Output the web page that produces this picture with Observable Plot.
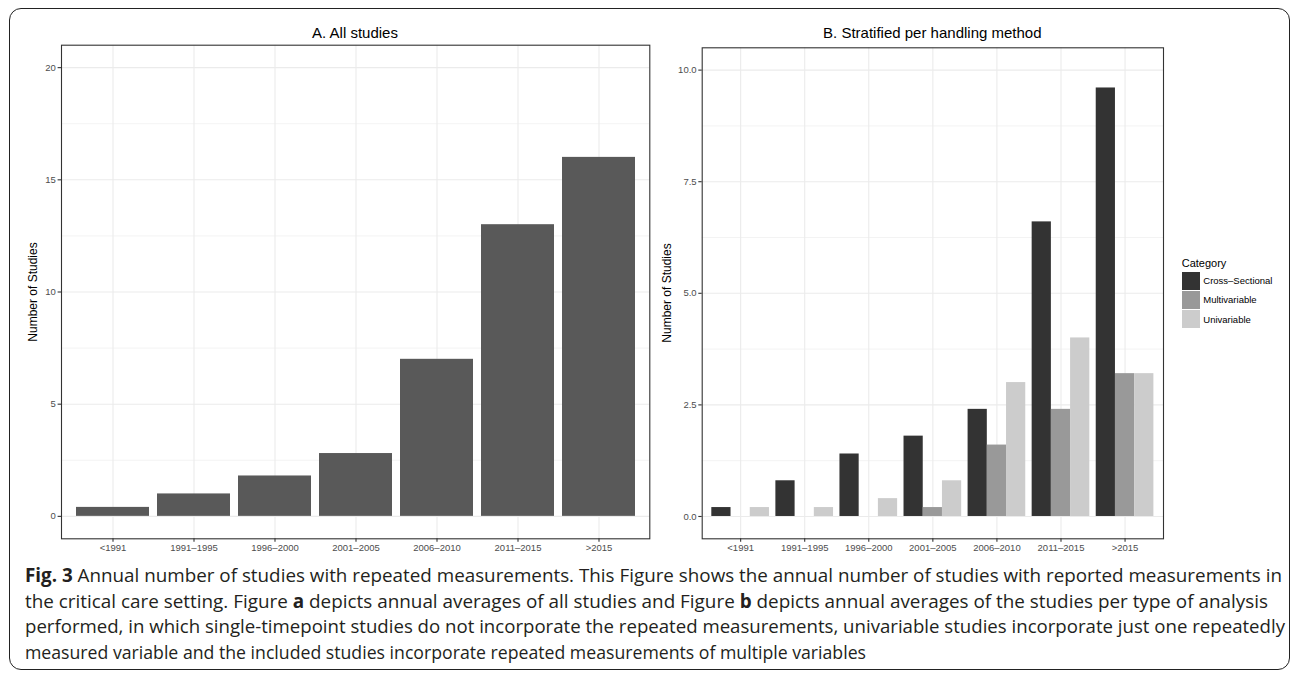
<!DOCTYPE html>
<html><head><meta charset="utf-8">
<script src="https://cdn.jsdelivr.net/npm/d3@7"></script>
<script src="https://cdn.jsdelivr.net/npm/@observablehq/plot@0.6"></script>
<style>
body{margin:0;background:#fff;}
#root{position:relative;width:1293px;height:674px;overflow:hidden;font-family:"Liberation Sans",Arial,sans-serif;}
.abs{position:absolute;}
.ptitle{font-size:15px;line-height:15px;color:#000;white-space:nowrap;transform:translateX(-50%);}
.ylab{font-size:12px;line-height:12px;color:#000;white-space:nowrap;transform:translate(-50%,-50%) rotate(-90deg);}
#border{left:8.5px;top:7.5px;width:1281px;height:662px;border:1.4px solid #222;border-radius:12px;box-sizing:border-box;}
#legend .ttl{font-size:11px;line-height:11px;color:#000;}
#legend .key{position:absolute;width:18.4px;height:18.4px;}
#legend .lab{position:absolute;font-size:9.5px;line-height:10px;color:#000;white-space:nowrap;}
.capline{position:absolute;left:25px;font-family:"Open Sans",sans-serif;font-size:19px;line-height:25.7px;color:#231f20;white-space:nowrap;transform-origin:0 0;}
.capline b{font-weight:700;}
</style></head><body><div id="root"></div>
<script>
// ---- data ----
const categories = ["<1991", "1991–1995", "1996–2000", "2001–2005", "2006–2010", "2011–2015", ">2015"];
const allStudies = [0.4, 1.0, 1.8, 2.8, 7.0, 13.0, 16.0];
const series = ["Cross–Sectional", "Multivariable", "Univariable"];
const crossSectional = [0.2, 0.8, 1.4, 1.8, 2.4, 6.6, 9.6];
const multivariable = [0, 0, 0, 0.2, 1.6, 2.4, 3.2];
const univariable = [0.2, 0.2, 0.4, 0.8, 3.0, 4.0, 3.2];
const yTicksA = [0, 5, 10, 15, 20];
const yTicksB = [0, 2.5, 5, 7.5, 10];
const seriesColors = ["#333333", "#999999", "#cccccc"];
const titleA = "A. All studies";
const titleB = "B. Stratified per handling method";
const yTitle = "Number of Studies";
const legendTitle = "Category";
const captionLines = [
  "<b>Fig. 3</b> Annual number of studies with repeated measurements. This Figure shows the annual number of studies with reported measurements in",
  "the critical care setting. Figure <b>a</b> depicts annual averages of all studies and Figure <b>b</b> depicts annual averages of the studies per type of analysis",
  "performed, in which single-timepoint studies do not incorporate the repeated measurements, univariable studies incorporate just one repeatedly",
  "measured variable and the included studies incorporate repeated measurements of multiple variables"
];

// ---- derived tables ----
const rowsA = categories.map((c, i) => ({category: c, value: allStudies[i]}));
const seriesValues = [crossSectional, multivariable, univariable];
const dodgeWidth = 0.9; // ggplot default bar width, shared by the dodged bars
const rowsB = categories.flatMap((c, i) => series.map((s, j) => ({
  category: c, series: s, idx: i, pos: j, value: seriesValues[j][i]
})));
const minorOf = ticks => d3.pairs(ticks).map(([a, b]) => (a + b) / 2);

const root = document.getElementById("root");
const font = "Liberation Sans, Arial, sans-serif";
const gridColor = "#ebebeb";
const axisOpts = {tickSize: 3.4, stroke: "#333", strokeWidth: 1.1, fill: "#4d4d4d", label: null};

// ---- Panel A ----
const plotA = Plot.plot({
  width: 660, height: 570,
  marginLeft: 61, marginRight: 10.7, marginTop: 44.7, marginBottom: 31.7,
  style: {fontFamily: font, fontSize: "9.5px", background: "transparent", overflow: "visible"},
  x: {type: "band", domain: categories, paddingInner: 0.1, paddingOuter: 0.15, align: 0.5},
  y: {domain: [-1, 21]},
  marks: [
    Plot.ruleY(minorOf(yTicksA), {stroke: gridColor, strokeWidth: 0.6}),
    Plot.ruleY(yTicksA, {stroke: gridColor, strokeWidth: 1.1}),
    Plot.ruleX(categories, {x: d => d, stroke: gridColor, strokeWidth: 1.1}),
    Plot.barY(rowsA, {x: "category", y1: 0, y2: "value", fill: "#595959"}),
    Plot.frame({stroke: "#333", strokeWidth: 1.1}),
    Plot.axisX({...axisOpts, tickPadding: 2.5}),
    Plot.axisY(yTicksA, {...axisOpts, tickPadding: 2.2})
  ]
});
plotA.style.position = "absolute"; plotA.style.left = "0px"; plotA.style.top = "0px";
root.appendChild(plotA);

// ---- Panel B ----
const idx = d3.range(categories.length);
const plotB = Plot.plot({
  width: 520, height: 570,
  marginLeft: 41.7, marginRight: 17, marginTop: 47.3, marginBottom: 31.7,
  style: {fontFamily: font, fontSize: "9.5px", background: "transparent", overflow: "visible"},
  x: {domain: [-0.6, categories.length - 0.4]},
  y: {domain: [-0.5, 10.5]},
  color: {domain: series, range: seriesColors},
  marks: [
    Plot.ruleY(minorOf(yTicksB), {stroke: gridColor, strokeWidth: 0.6}),
    Plot.ruleY(yTicksB, {stroke: gridColor, strokeWidth: 1.1}),
    Plot.ruleX(idx, {x: d => d, stroke: gridColor, strokeWidth: 1.1}),
    Plot.rectY(rowsB, {
      x1: d => d.idx - dodgeWidth / 2 + d.pos * dodgeWidth / series.length,
      x2: d => d.idx - dodgeWidth / 2 + (d.pos + 1) * dodgeWidth / series.length,
      y1: 0, y2: "value", fill: "series"
    }),
    Plot.frame({stroke: "#333", strokeWidth: 1.1}),
    Plot.axisX(idx, {...axisOpts, tickPadding: 2.5, tickFormat: i => categories[i]}),
    Plot.axisY(yTicksB, {...axisOpts, tickPadding: 2.2, tickFormat: d3.format(".1f")})
  ]
});
plotB.style.position = "absolute"; plotB.style.left = "660px"; plotB.style.top = "0px";
root.appendChild(plotB);

// ---- HTML text: titles, axis titles, legend, caption, border ----
function addDiv(cls, text, left, top) {
  const d = document.createElement("div");
  d.className = "abs " + cls;
  d.textContent = text;
  d.style.left = left + "px"; d.style.top = top + "px";
  root.appendChild(d);
  return d;
}
addDiv("ptitle", titleA, 355, 25);
addDiv("ptitle", titleB, 932.3, 25);
addDiv("ylab", yTitle, 33, 291.5);
addDiv("ylab", yTitle, 667, 292.8);

const legend = document.createElement("div");
legend.className = "abs"; legend.id = "legend";
legend.style.left = "1181.7px"; legend.style.top = "257.5px";
const lt = document.createElement("div"); lt.className = "ttl"; lt.textContent = legendTitle;
legend.appendChild(lt);
series.forEach((s, j) => {
  const k = document.createElement("div"); k.className = "key";
  k.style.left = "0px"; k.style.top = (14.2 + j * 19.2) + "px"; k.style.background = seriesColors[j];
  legend.appendChild(k);
  const l = document.createElement("div"); l.className = "lab"; l.textContent = s;
  l.style.left = "21.6px"; l.style.top = (14.2 + j * 19.2 + 4.4) + "px";
  legend.appendChild(l);
});
root.appendChild(legend);

// caption: the reference uses a condensed face; each line is fitted to where the reference's line ends
const lineEnds = [1282, 1268, 1285, 866];
captionLines.forEach((html, k) => {
  const d = document.createElement("div");
  d.className = "capline";
  d.innerHTML = html;
  d.style.top = (563 + k * 25.7) + "px";
  root.appendChild(d);
  const w = d.getBoundingClientRect().width;
  d.style.transform = "scaleX(" + ((lineEnds[k] - 25) / w) + ")";
});

const border = document.createElement("div");
border.className = "abs"; border.id = "border";
root.appendChild(border);
</script>
</body></html>
